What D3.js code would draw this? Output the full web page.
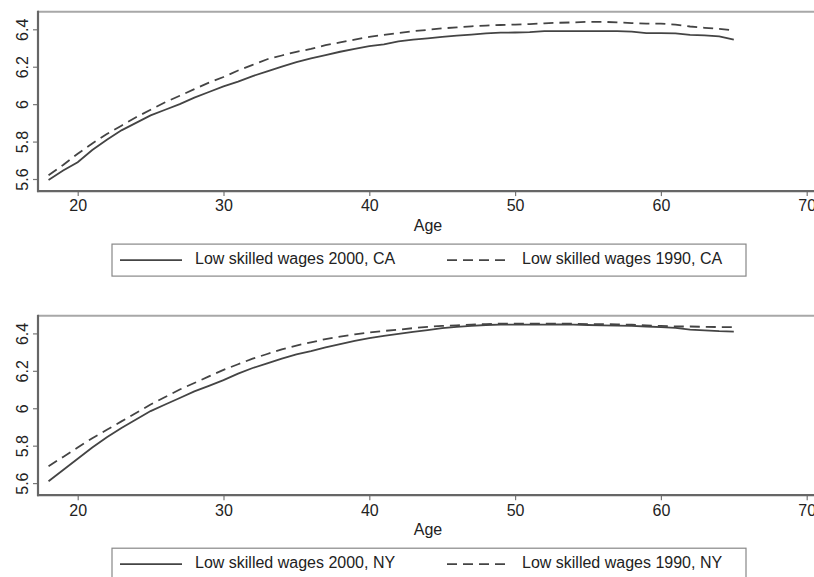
<!DOCTYPE html>
<html>
<head>
<meta charset="utf-8">
<script src="https://cdn.jsdelivr.net/npm/d3@7"></script>
<style>
  body { margin: 0; background: #fff; }
  svg { display: block; font-family: "Liberation Sans", Arial, sans-serif; }
</style>
</head>
<body>
<svg id="chart" width="814" height="577"></svg>
<script>
const ages = d3.range(18, 66);

const ca2000 = [5.595, 5.645, 5.69, 5.755, 5.81, 5.86, 5.90, 5.94, 5.97, 6.00,
  6.035, 6.065, 6.095, 6.12, 6.15, 6.175, 6.20, 6.225, 6.245, 6.262,
  6.28, 6.295, 6.31, 6.32, 6.335, 6.345, 6.352, 6.36, 6.366, 6.372,
  6.378, 6.382, 6.383, 6.385, 6.39, 6.39, 6.39, 6.39, 6.39, 6.39,
  6.388, 6.38, 6.38, 6.378, 6.37, 6.368, 6.362, 6.345];
const ca1990 = [5.62, 5.675, 5.735, 5.79, 5.84, 5.885, 5.93, 5.97, 6.01, 6.045,
  6.08, 6.115, 6.145, 6.18, 6.21, 6.24, 6.26, 6.28, 6.295, 6.315,
  6.33, 6.345, 6.36, 6.37, 6.38, 6.39, 6.397, 6.405, 6.41, 6.416,
  6.42, 6.423, 6.425, 6.428, 6.432, 6.435, 6.437, 6.44, 6.44, 6.437,
  6.433, 6.43, 6.43, 6.425, 6.415, 6.408, 6.402, 6.395];
const ny2000 = [5.61, 5.67, 5.73, 5.79, 5.845, 5.895, 5.94, 5.985, 6.02, 6.055,
  6.09, 6.12, 6.15, 6.185, 6.215, 6.24, 6.265, 6.288, 6.305, 6.325,
  6.343, 6.36, 6.375, 6.387, 6.397, 6.408, 6.418, 6.428, 6.435, 6.44,
  6.445, 6.447, 6.447, 6.447, 6.447, 6.448, 6.447, 6.445, 6.443, 6.442,
  6.44, 6.437, 6.434, 6.43, 6.42, 6.416, 6.412, 6.41];
const ny1990 = [5.69, 5.74, 5.79, 5.84, 5.885, 5.93, 5.975, 6.02, 6.06, 6.10,
  6.135, 6.17, 6.205, 6.235, 6.265, 6.29, 6.315, 6.335, 6.352, 6.37,
  6.383, 6.395, 6.405, 6.413, 6.42, 6.428, 6.435, 6.44, 6.443, 6.447,
  6.45, 6.452, 6.452, 6.452, 6.452, 6.452, 6.452, 6.45, 6.45, 6.448,
  6.447, 6.443, 6.44, 6.437, 6.437, 6.435, 6.434, 6.434];

const xTicks = [20, 30, 40, 50, 60, 70];
const yTicks = [5.6, 5.8, 6, 6.2, 6.4];

const lineColor = "#444";
const dash = "10,6";

const svg = d3.select("#chart");

function drawPanel(top, solid, dashed, labelSolid, labelDashed) {
  // top = y of the plot region's upper edge
  const y0 = top + 17.6;          // 6.4
  const y1 = top + 167.3;         // 5.6
  const axisY = top + 179.4;

  const xScale = d3.scaleLinear().domain([20, 70]).range([77.7, 806.7]);
  const yScale = d3.scaleLinear().domain([5.6, 6.4]).range([y1, y0]);

  const g = svg.append("g");

  // plot region outline (top / right)
  g.append("path")
    .attr("d", `M38,${top} H830 V${axisY}`)
    .attr("fill", "none")
    .attr("stroke", "#a8a8a8")
    .attr("stroke-width", 2);

  const line = d3.line()
    .x((d, i) => xScale(ages[i]))
    .y(d => yScale(d));

  g.append("path")
    .datum(solid)
    .attr("d", line)
    .attr("fill", "none")
    .attr("stroke", lineColor)
    .attr("stroke-width", 1.8);

  g.append("path")
    .datum(dashed)
    .attr("d", line)
    .attr("fill", "none")
    .attr("stroke", lineColor)
    .attr("stroke-width", 1.8)
    .attr("stroke-dasharray", dash);

  // x axis
  const xAxis = d3.axisBottom(xScale).tickValues(xTicks).tickSize(5).tickPadding(4)
    .tickFormat(d3.format("d"));
  const xg = g.append("g")
    .attr("transform", `translate(0, ${axisY})`)
    .call(xAxis);
  xg.select(".domain").remove();
  xg.append("line")
    .attr("x1", 37).attr("x2", 830)
    .attr("stroke", "#666").attr("stroke-width", 2.2);
  xg.selectAll(".tick line").attr("stroke", "#777").attr("stroke-width", 1.2);
  xg.selectAll(".tick text")
    .attr("fill", "#222")
    .attr("font-size", 16)
    .attr("font-family", "Liberation Sans, Arial, sans-serif");

  g.append("text")
    .text("Age")
    .attr("x", 428)
    .attr("y", axisY + 40)
    .attr("text-anchor", "middle")
    .attr("fill", "#222")
    .attr("font-size", 16);

  // y axis
  const yAxis = d3.axisLeft(yScale).tickValues(yTicks).tickSize(5).tickPadding(4)
    .tickFormat(d => d3.format("")(d));
  const yg = g.append("g")
    .attr("transform", "translate(38, 0)")
    .call(yAxis);
  yg.select(".domain").remove();
  yg.append("line")
    .attr("y1", top - 1).attr("y2", axisY + 1)
    .attr("stroke", "#666").attr("stroke-width", 2.2);
  yg.selectAll(".tick line").attr("stroke", "#777").attr("stroke-width", 1.2);
  yg.selectAll(".tick text")
    .attr("fill", "#222")
    .attr("font-size", 16)
    .attr("font-family", "Liberation Sans, Arial, sans-serif")
    .attr("text-anchor", "middle")
    .attr("x", 0)
    .attr("dy", null)
    .attr("transform", "translate(-14, 0) rotate(-90)")
    .attr("dominant-baseline", "middle");

  // legend
  const ly = axisY + 53;
  const lg = g.append("g");
  lg.append("rect")
    .attr("x", 112).attr("y", ly)
    .attr("width", 634).attr("height", 32)
    .attr("fill", "#fff")
    .attr("stroke", "#888")
    .attr("stroke-width", 1.2);
  const items = [
    { label: labelSolid, x: 120, dashed: false },
    { label: labelDashed, x: 447, dashed: true }
  ];
  items.forEach(it => {
    lg.append("line")
      .attr("x1", it.x).attr("x2", it.x + 62)
      .attr("y1", ly + 16).attr("y2", ly + 16)
      .attr("stroke", lineColor)
      .attr("stroke-width", 1.8)
      .attr("stroke-dasharray", it.dashed ? dash : null);
    lg.append("text")
      .text(it.label)
      .attr("x", it.x + 75)
      .attr("y", ly + 16)
      .attr("dominant-baseline", "middle")
      .attr("fill", "#222")
      .attr("font-size", 16);
  });
}

drawPanel(11.7, ca2000, ca1990, "Low skilled wages 2000, CA", "Low skilled wages 1990, CA");
drawPanel(315.8, ny2000, ny1990, "Low skilled wages 2000, NY", "Low skilled wages 1990, NY");
</script>
</body>
</html>
